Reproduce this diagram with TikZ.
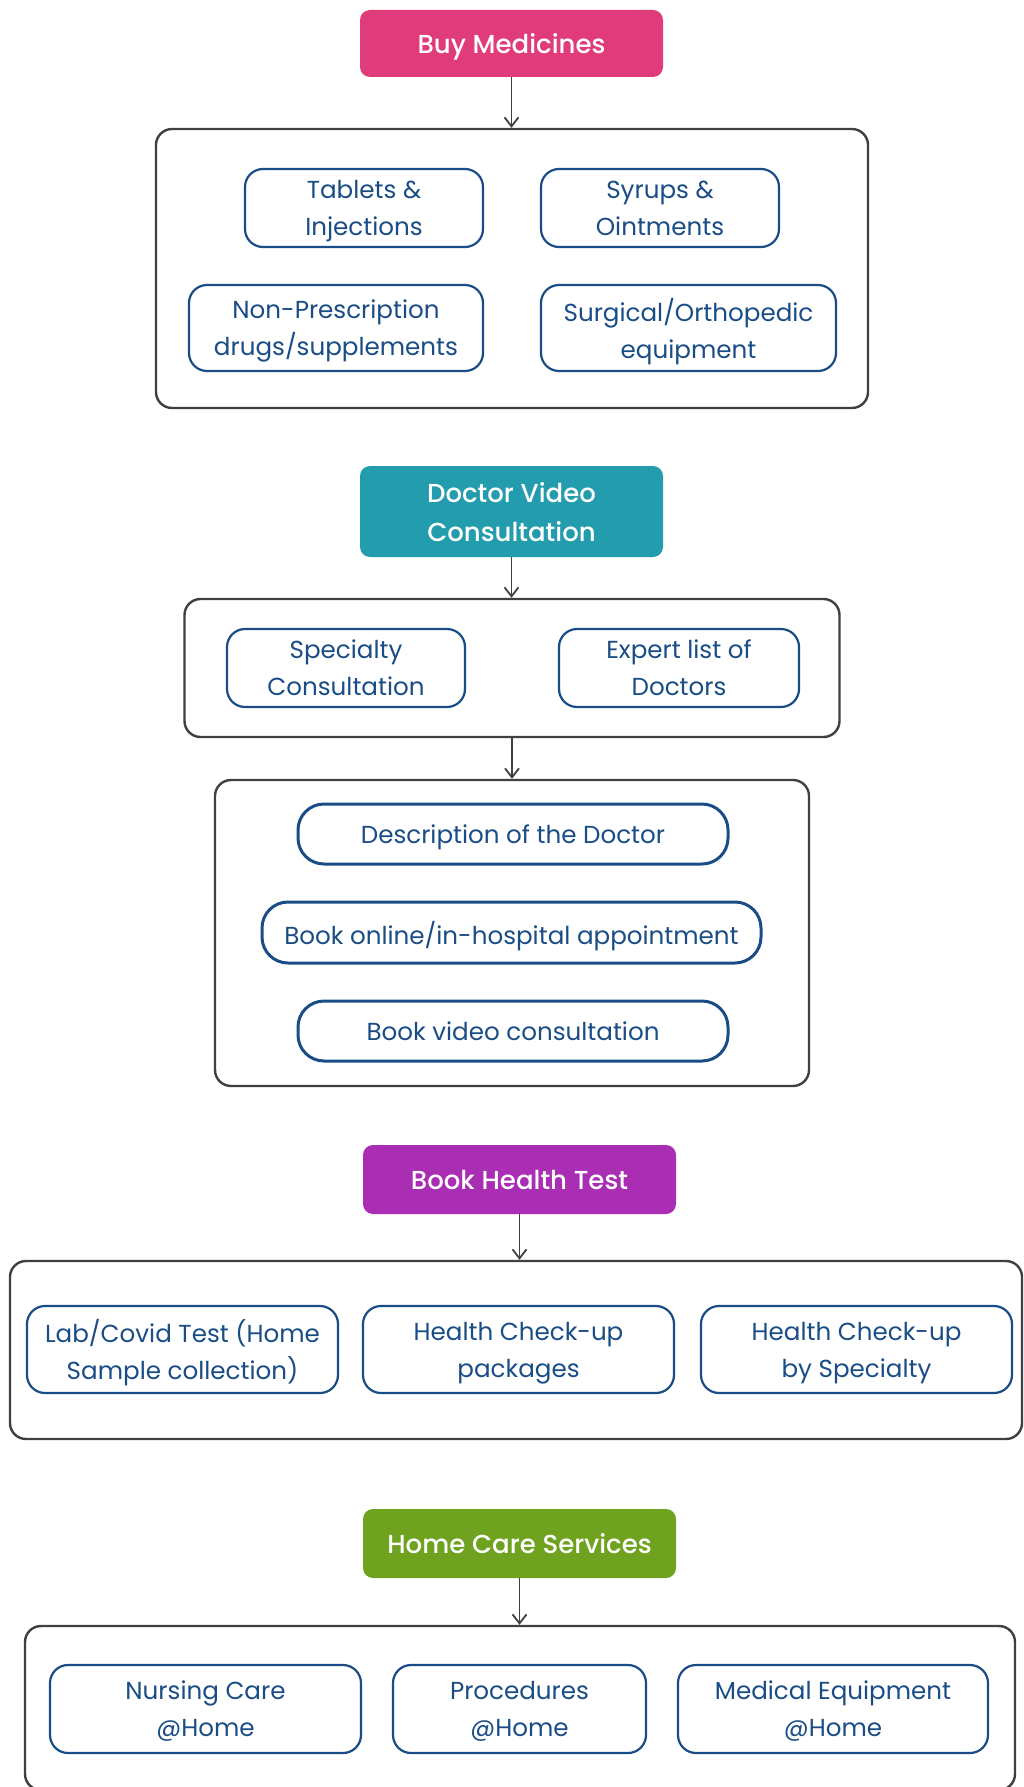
\documentclass[tikz,border=0pt]{standalone}
\usepackage{fontspec}
\setmainfont{Poppins}
\newfontfamily\hdfont{Poppins Medium}
\usetikzlibrary{arrows.meta}
\definecolor{pinkc}{HTML}{E03C7C}
\definecolor{tealc}{HTML}{239CAD}
\definecolor{purpc}{HTML}{A92EB3}
\definecolor{greenc}{HTML}{6FA31F}
\definecolor{bluec}{HTML}{1A4D86}
\definecolor{grayc}{HTML}{404040}
\begin{document}
\begin{tikzpicture}[x=1pt,y=-1pt,
 hdr/.style={rounded corners=10pt, text=white, font=\hdfont\fontsize{26}{39}\selectfont, align=center, inner sep=0pt, text depth=0pt},
 item/.style={draw=bluec, line width=2.2pt, rounded corners=18pt, text=bluec, font=\fontsize{24.6}{37}\selectfont, align=center, inner sep=0pt, text depth=0pt},
 pill/.style={item, line width=3pt, rounded corners=26pt},
 grp/.style={draw=grayc, line width=2.4pt, rounded corners=16pt, inner sep=0pt},
 link/.style={draw=grayc, line width=1.8pt, -{Straight Barb[length=9pt,width=14pt]}}
]
\fill[white] (0,0) rectangle (1023,1787);
\useasboundingbox (0,0) rectangle (1023,1787);

% --- Buy Medicines
\node[hdr, fill=pinkc, minimum width=303pt, minimum height=67pt] (bm) at (511.5,43.5) {Buy Medicines};
\node[grp, minimum width=712pt, minimum height=279pt] (g1) at (512,268.5) {};
\node[item, minimum width=238pt, minimum height=78pt] (tab) at (364,208) {Tablets \&\\Injections};
\node[item, minimum width=238pt, minimum height=78pt] (syr) at (660,208) {Syrups \&\\Ointments};
\node[item, minimum width=294pt, minimum height=86pt] (nonp) at (336,328) {Non-Prescription\\drugs/supplements};
\node[item, minimum width=295pt, minimum height=86pt] (surg) at (688.5,328) {Surgical/Orthopedic\\equipment};
\draw[link] (bm.south) -- (bm.south |- g1.north);

% --- Doctor Video Consultation
\node[hdr, fill=tealc, minimum width=303pt, minimum height=91pt] (dv) at (511.5,511.5) {Doctor Video\\Consultation};
\node[grp, minimum width=655pt, minimum height=138pt] (g2) at (512,668) {};
\node[item, minimum width=238pt, minimum height=78pt] (spc) at (346,668) {Specialty\\Consultation};
\node[item, minimum width=240pt, minimum height=78pt] (exp) at (679,668) {Expert list of\\Doctors};
\node[grp, minimum width=594pt, minimum height=306pt] (g3) at (512,933) {};
\node[pill, minimum width=430pt, minimum height=60pt] (desc) at (513,834) {Description of the Doctor};
\node[pill, minimum width=499pt, minimum height=61pt] (book) at (511.5,932.5) {Book online/in-hospital appointment};
\node[pill, minimum width=430pt, minimum height=60pt] (vid) at (513,1031) {Book video consultation};
\draw[link] (dv.south) -- (dv.south |- g2.north);
\draw[link] (g2.south) -- (g2.south |- g3.north);

% --- Book Health Test
\node[hdr, fill=purpc, minimum width=313pt, minimum height=69pt] (bh) at (519.5,1179.5) {Book Health Test};
\node[grp, minimum width=1012pt, minimum height=178pt] (g4) at (516,1350) {};
\node[item, minimum width=311pt, minimum height=87pt] (lab) at (182.5,1349.5) {Lab/Covid Test (Home\\Sample collection)};
\node[item, minimum width=311pt, minimum height=87pt] (pkg) at (518.5,1349.5) {Health Check-up\\packages};
\node[item, minimum width=311pt, minimum height=87pt] (hsp) at (856.5,1349.5) {Health Check-up\\by Specialty};
\draw[link] (bh.south) -- (bh.south |- g4.north);

% --- Home Care Services
\node[hdr, fill=greenc, minimum width=313pt, minimum height=69pt] (hc) at (519.5,1543.5) {Home Care Services};
\node[grp, minimum width=990pt, minimum height=164pt] (g5) at (520,1708) {};
\node[item, minimum width=311pt, minimum height=88pt] (nur) at (205.5,1709) {Nursing Care\\@Home};
\node[item, minimum width=253pt, minimum height=88pt] (proc) at (519.5,1709) {Procedures\\@Home};
\node[item, minimum width=310pt, minimum height=88pt] (med) at (833,1709) {Medical Equipment\\@Home};
\draw[link] (hc.south) -- (hc.south |- g5.north);
\end{tikzpicture}
\end{document}
